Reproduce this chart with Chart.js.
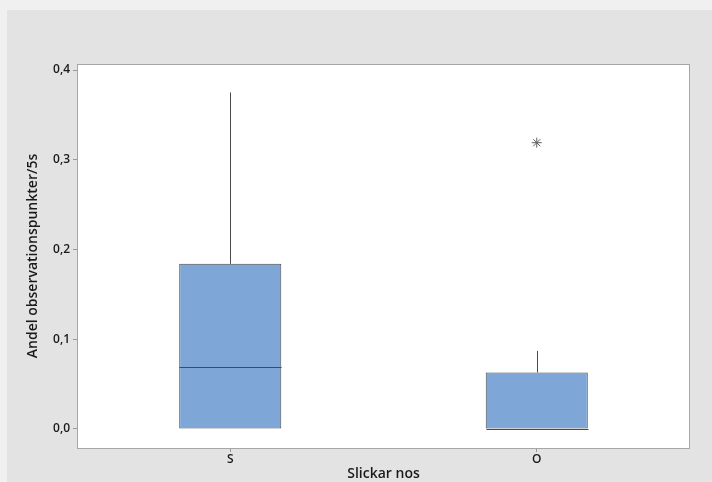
<!DOCTYPE html>
<html>
<head>
<meta charset="utf-8">
<script src="https://cdn.jsdelivr.net/npm/chart.js@4.4.1/dist/chart.umd.min.js"></script>
<style>
  html, body { margin:0; padding:0; background:#f0f0f0; width:712px; height:482px; overflow:hidden; }
  #wrap { position:absolute; left:7px; top:10px; width:705px; height:472px; background:#e3e3e3; }
</style>
</head>
<body>
<div id="wrap"><canvas id="boxChart" width="705" height="472"></canvas></div>
<script>
var categories = ['S', 'O']
var q1 = [0, 0]
var median = [0.069, 0]
var q3 = [0.184, 0.063]
var whiskerLow = [0, 0]
var whiskerHigh = [0.375, 0.087]
var outliers = [[], [0.319]]
var yTicks = [0, 0.1, 0.2, 0.3, 0.4]

var boxColor = '#7ea7d8'
var lineColor = '#4a4a4a'
var textColor = '#1a1a1a'

// white plot area + frame
var plotFrame = {
    id:'plotFrame',
    beforeDraw:function(chart){
        var a = chart.chartArea, ctx = chart.ctx
        ctx.save()
        ctx.fillStyle = '#ffffff'
        ctx.fillRect(a.left, a.top, a.right - a.left, a.bottom - a.top)
        ctx.restore()
    },
    afterDraw:function(chart){
        var a = chart.chartArea, ctx = chart.ctx
        ctx.save()
        ctx.strokeStyle = '#a6a6a6'
        ctx.lineWidth = 1
        ctx.strokeRect(a.left + 0.5, a.top + 0.5, a.right - a.left - 1, a.bottom - a.top)
        ctx.restore()
    }
}

// whiskers and medians
var boxParts = {
    id:'boxParts',
    afterDatasetsDraw:function(chart){
        var ctx = chart.ctx
        var x = chart.scales.x, y = chart.scales.y
        var bars = chart.getDatasetMeta(0).data
        ctx.save()
        ctx.strokeStyle = lineColor
        ctx.lineWidth = 1
        for(let i=0; i<categories.length; i++){
            let cx = Math.round(x.getPixelForValue(i)) + 0.5
            let half = bars[i].width / 2
            ctx.beginPath()
            ctx.moveTo(cx, y.getPixelForValue(q3[i]))
            ctx.lineTo(cx, y.getPixelForValue(whiskerHigh[i]))
            ctx.moveTo(cx, y.getPixelForValue(q1[i]))
            ctx.lineTo(cx, y.getPixelForValue(whiskerLow[i]))
            let my = Math.round(y.getPixelForValue(median[i])) + 0.5
            ctx.moveTo(cx - half, my)
            ctx.lineTo(cx + half, my)
            ctx.stroke()
        }
        ctx.restore()
    }
}

var outlierPoints = []
for(let i=0; i<categories.length; i++){
    for(let j=0; j<outliers[i].length; j++){
        outlierPoints.push({x:categories[i], y:outliers[i][j]})
    }
}

var boxChart = new Chart(document.getElementById('boxChart'), {
    type:'bar',
    data:{
        labels:categories,
        datasets:[{
            label:'box',
            data:categories.map(function(c, i){ return [q1[i], q3[i]] }),
            backgroundColor:boxColor,
            borderColor:lineColor,
            borderWidth:1,
            borderSkipped:false,
            barPercentage:0.333,
            categoryPercentage:1.0
        },{
            type:'scatter',
            label:'outlier',
            data:outlierPoints,
            pointStyle:'star',
            radius:5,
            borderColor:'#606060',
            backgroundColor:'#606060',
            borderWidth:1
        }]
    },
    plugins:[plotFrame, boxParts],
    options:{
        responsive:false,
        animation:false,
        layout:{ padding:{ top:54, right:22, left:0, bottom:0 } },
        plugins:{ legend:{ display:false }, tooltip:{ enabled:false } },
        scales:{
            x:{
                type:'category',
                offset:true,
                grid:{ display:true, drawOnChartArea:false, drawTicks:true, tickLength:4, color:'#999999', offset:false },
                border:{ display:false },
                ticks:{ color:textColor, padding:0, font:{ family:'Open Sans', size:12, weight:'600' } },
                title:{ display:true, text:'Slickar nos', color:textColor, padding:{ top:-3, bottom:0 },
                        font:{ family:'Open Sans', size:14, weight:'600' } },
                afterFit:function(s){ s.height = 34 }
            },
            y:{
                min:-0.0212,
                max:0.4067,
                afterBuildTicks:function(s){ s.ticks = yTicks.map(function(v){ return {value:v} }) },
                grid:{ display:true, drawOnChartArea:false, drawTicks:true, tickLength:4, color:'#999999' },
                border:{ display:false },
                ticks:{ color:textColor, padding:3,
                        font:{ family:'Open Sans', size:12, weight:'600' },
                        callback:function(v){ return v.toFixed(1).replace('.', ',') } },
                title:{ display:true, text:'Andel observationspunkter/5s', color:textColor, padding:{ top:18, bottom:0 },
                        font:{ family:'Open Sans', size:14, weight:'600' } },
                afterFit:function(s){ s.width = 70 }
            }
        }
    }
})
</script>
</body>
</html>
